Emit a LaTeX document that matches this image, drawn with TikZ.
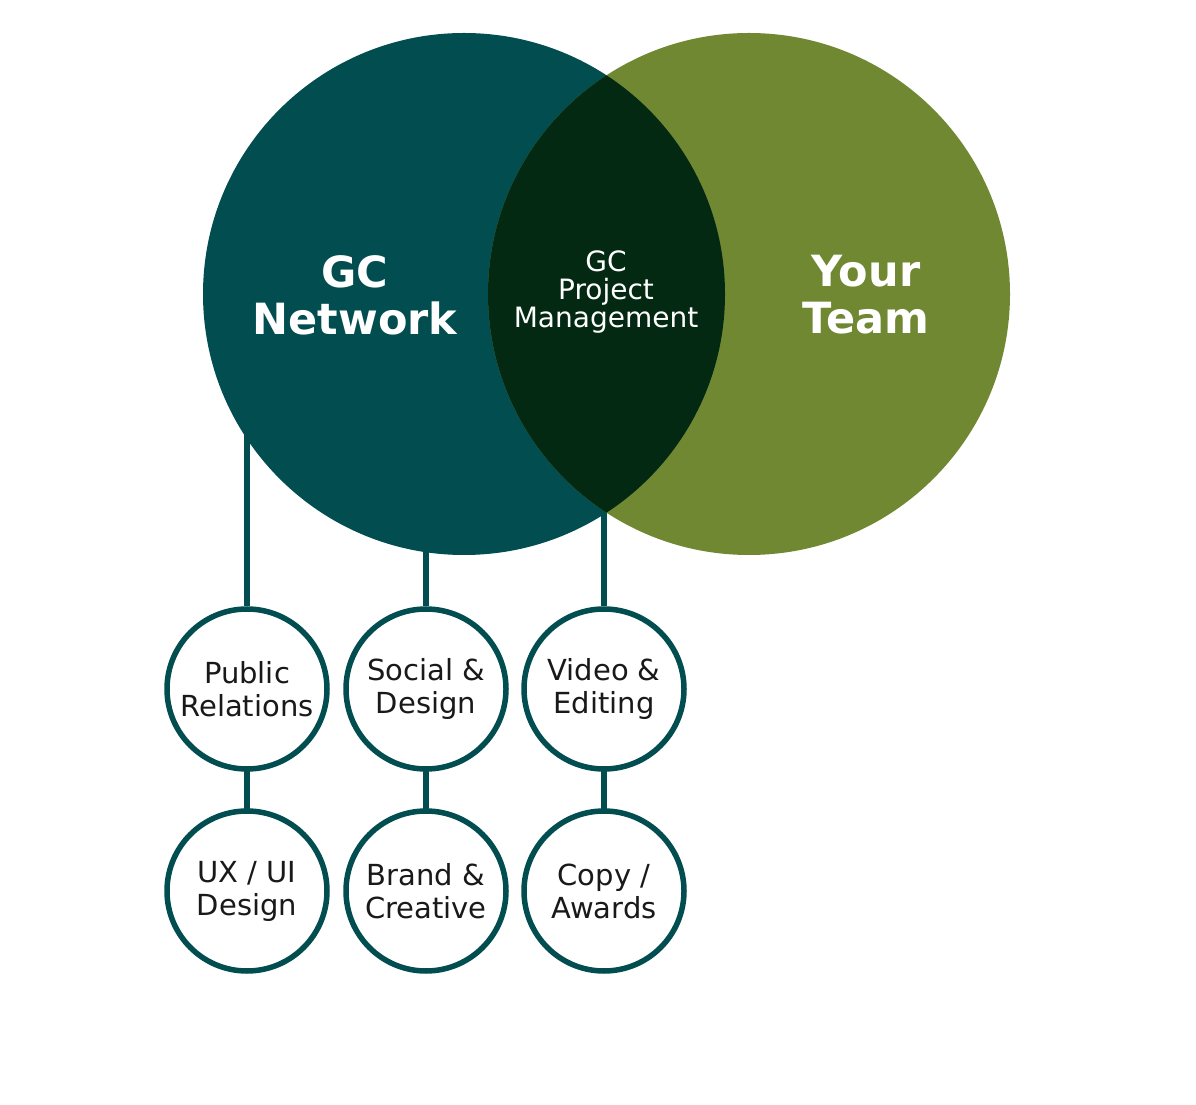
\documentclass[tikz,border=0pt]{standalone}
\usepackage{fontspec}
\setmainfont{DejaVu Sans}
\usetikzlibrary{backgrounds}
\definecolor{gcteal}{RGB}{2,77,80}
\definecolor{teamgreen}{RGB}{113,136,51}
\definecolor{pmdark}{RGB}{3,41,18}
\definecolor{servtext}{RGB}{25,25,25}

\begin{document}
\begin{tikzpicture}[
    x=1pt,y=1pt,
    line cap=round,line join=round,
    bigcircle/.style={circle,minimum size=522pt,inner sep=0pt},
    service/.style={circle,draw=gcteal,line width=5.5pt,fill=white,
        minimum size=160pt,inner sep=0pt,align=center,text=servtext,
        font=\fontsize{29}{33}\selectfont},
    title/.style={text=white,align=center,font=\bfseries\fontsize{43}{47}\selectfont},
    link/.style={draw=gcteal,line width=5.5pt}
]
    \useasboundingbox (0,0) rectangle (1196,1104);
    % the two big circles and their overlap
    \node[bigcircle,fill=gcteal] (gc) at (464,810) {};
    \node[bigcircle,fill=teamgreen] (team) at (749,810) {};
    \begin{scope}
        \clip (gc.center) circle (261);
        \fill[pmdark] (team.center) circle (261);
    \end{scope}
    \node[title] (gclabel) at (355,809) {GC\\Network};
    \node[title] (teamlabel) at (866,809) {Your\\Team};
    \node[text=white,align=center,font=\fontsize{28}{28}\selectfont] (pm) at (606,812)
        {GC\\Project\\Management};
    % services
    \node[service] (pr) at (247,415) {Public\\Relations};
    \node[service] (social) at (426,415) {Social \&\\Design};
    \node[service] (video) at (604,415) {Video \&\\Editing};
    \node[service] (ux) at (247,213) {UX / UI\\Design};
    \node[service] (brand) at (426,213) {Brand \&\\Creative};
    \node[service] (copy) at (604,213) {Copy /\\Awards};
    \begin{pgfonlayer}{background}
        \draw[link] (pr.north) -- (pr.north |- gc.center);
        \draw[link] (social.north) -- (social.north |- gc.center);
        \draw[link] (video.north) -- (video.north |- gc.center);
    \end{pgfonlayer}
    \draw[link] (pr) -- (ux);
    \draw[link] (social) -- (brand);
    \draw[link] (video) -- (copy);
\end{tikzpicture}
\end{document}
